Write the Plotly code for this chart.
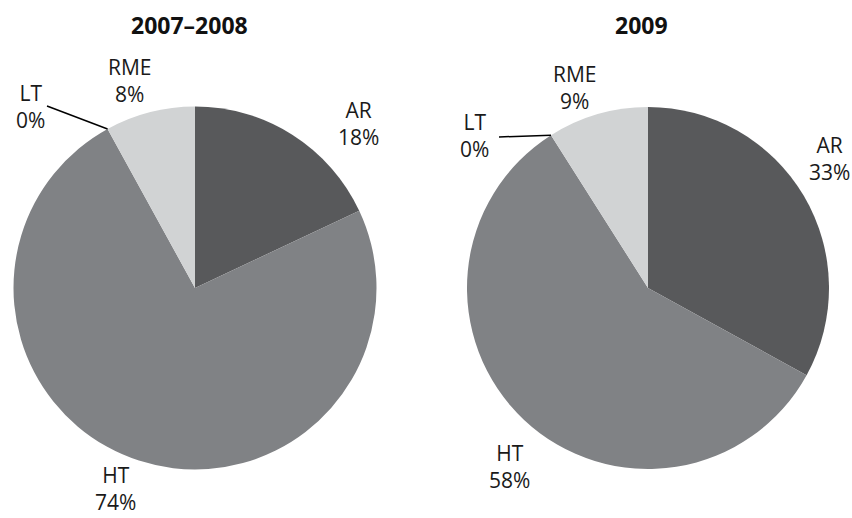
import math
import plotly.graph_objects as go

# ---- data ----
categories = ["AR", "HT", "LT", "RME"]
values_2007_2008 = [18, 74, 0, 8]
values_2009 = [33, 58, 0, 9]
titles = ["2007–2008", "2009"]
colors = ["#58595b", "#808285", "#000000", "#d1d3d4"]

W, H = 852, 518
FONT = "Open Sans"

def px(x):
    return x / W

def py(y):
    return 1 - y / H

# layout (pixel geometry of each pie: center x, center y, radius)
pies = [
    dict(vals=values_2007_2008, cx=195, cy=288, r=181.5, title_x=189,
         label_pos={"AR": (358, 124), "HT": (115, 488), "LT": (31, 106), "RME": (130, 80)},
         leader_start=(47, 106)),
    dict(vals=values_2009, cx=648, cy=288, r=181, title_x=641,
         label_pos={"AR": (829, 158), "HT": (509, 466), "LT": (474, 136), "RME": (575, 87)},
         leader_start=(499, 137)),
]

fig = go.Figure()
annotations = []
shapes = []
for i, p in enumerate(pies):
    fig.add_trace(go.Pie(
        labels=categories, values=p["vals"], sort=False, direction="clockwise",
        rotation=0, textinfo="none", hoverinfo="label+percent",
        marker=dict(colors=colors, line=dict(width=0)),
        domain=dict(x=[px(p["cx"] - p["r"]), px(p["cx"] + p["r"])],
                    y=[py(p["cy"] + p["r"]), py(p["cy"] - p["r"])]),
        showlegend=False,
    ))
    annotations.append(dict(
        x=px(p["title_x"]), y=py(25), xref="paper", yref="paper",
        text="<b>%s</b>" % titles[i], showarrow=False,
        font=dict(family=FONT, size=23, color="#111111"),
        xanchor="center", yanchor="middle"))
    total = sum(p["vals"])
    for cat, v in zip(categories, p["vals"]):
        lx, ly = p["label_pos"][cat]
        annotations.append(dict(
            x=px(lx), y=py(ly), xref="paper", yref="paper",
            text="%s<br>%d%%" % (cat, round(100 * v / total)), showarrow=False,
            font=dict(family=FONT, size=21, color="#1a1a1a"),
            xanchor="center", yanchor="middle", align="center", borderpad=0))
    # leader line for LT, ending at the LT slice boundary
    idx = categories.index("LT")
    frac = sum(p["vals"][:idx]) / total
    ang = 2 * math.pi * frac
    tx = p["cx"] + p["r"] * math.sin(ang)
    ty = p["cy"] - p["r"] * math.cos(ang)
    sx, sy = p["leader_start"]
    shapes.append(dict(type="line", xref="paper", yref="paper",
                       x0=px(sx), y0=py(sy), x1=px(tx), y1=py(ty),
                       line=dict(color="#000000", width=1.5)))

fig.update_layout(
    width=W, height=H, margin=dict(l=0, r=0, t=0, b=0),
    paper_bgcolor="white", plot_bgcolor="white",
    annotations=annotations, shapes=shapes,
)
fig.write_html("out.html", config={"displayModeBar": False},
               post_script="document.body.style.margin='0px';document.body.style.overflow='hidden';")
